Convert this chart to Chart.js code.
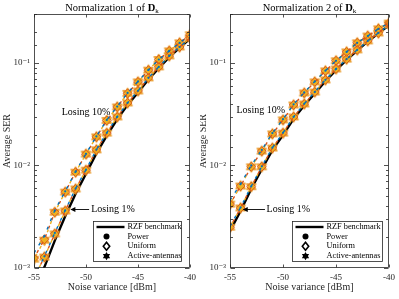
<!DOCTYPE html>
<html><head><meta charset="utf-8">
<script src="https://cdn.jsdelivr.net/npm/chart.js@4.4.1/dist/chart.umd.min.js"></script>
<style>
html,body{margin:0;padding:0;background:#fff;}
#wrap{position:relative;width:399px;height:299px;overflow:hidden;background:#fff;}
canvas{position:absolute;top:0;}
</style></head><body>
<div id="wrap">
<canvas id="c1" width="200" height="299" style="left:0"></canvas>
<canvas id="c2" width="199" height="299" style="left:200px"></canvas>
</div>
<script>
// ---------- DATA ----------
const noiseDbm = [-55,-54,-53,-52,-51,-50,-49,-48,-47,-46,-45,-44,-43,-42,-41,-40];
const xTickValues = [-55,-50,-45,-40];
const yTickLabels = {"0.001":"10\u207B\u00B3","0.01":"10\u207B\u00B2","0.1":"10\u207B\u00B9"};
const panelTitles = ["Normalization 1 of ", "Normalization 2 of "];
const legendLabels = ["RZF benchmark","Power","Uniform","Active-antennas"];
const annotationTexts = ["Losing 10%","Losing 1%"];

// Normalization 1
const n1Rzf       = [6.3e-4,1.02e-3,1.85e-3,3.2e-3,5.3e-3,8.3e-3,0.0131,0.0195,0.0282,0.039,0.0515,0.069,0.089,0.114,0.140,0.172];
const n1Power10   = [1.4e-3,2.05e-3,3.65e-3,5.6e-3,8.7e-3,0.0130,0.0192,0.0278,0.0375,0.051,0.066,0.0855,0.108,0.131,0.157,0.188];
const n1Uniform10 = [1.25e-3,1.9e-3,3.5e-3,5.5e-3,8.6e-3,0.0129,0.0190,0.0275,0.0372,0.0505,0.0653,0.085,0.108,0.131,0.157,0.188];
const n1Active10  = [1.22e-3,1.87e-3,3.5e-3,5.5e-3,8.6e-3,0.0129,0.0190,0.0275,0.0372,0.0505,0.0653,0.085,0.108,0.131,0.157,0.188];
const n1Power1    = [8.0e-4,1.3e-3,2.2e-3,3.65e-3,5.95e-3,9.1e-3,0.0143,0.0208,0.0298,0.0408,0.0535,0.0715,0.0915,0.117,0.143,0.175];
const n1Uniform1  = [8.0e-4,1.28e-3,2.15e-3,3.6e-3,5.9e-3,9.0e-3,0.0142,0.0207,0.0297,0.0407,0.0533,0.0714,0.0914,0.117,0.143,0.175];
const n1Active1   = [8.0e-4,1.28e-3,2.15e-3,3.6e-3,5.9e-3,9.0e-3,0.0142,0.0207,0.0297,0.0407,0.0533,0.0714,0.0914,0.117,0.143,0.175];

// Normalization 2
const n2Rzf       = [2.3e-3,3.6e-3,5.9e-3,9.2e-3,0.0141,0.0198,0.0285,0.0385,0.0505,0.0665,0.085,0.107,0.132,0.162,0.194,0.233];
const n2Power10   = [4.6e-3,6.6e-3,1.0e-2,0.0142,0.0207,0.0283,0.0395,0.0515,0.066,0.084,0.105,0.128,0.157,0.183,0.215,0.245];
const n2Uniform10 = [4.2e-3,6.3e-3,9.7e-3,0.0138,0.0203,0.0278,0.0389,0.0509,0.0653,0.0836,0.105,0.128,0.157,0.183,0.215,0.245];
const n2Active10  = [4.2e-3,6.3e-3,9.7e-3,0.0138,0.0203,0.0278,0.0389,0.0509,0.0653,0.0836,0.105,0.128,0.157,0.183,0.215,0.245];
const n2Power1    = [2.55e-3,3.9e-3,6.25e-3,9.8e-3,0.0149,0.0208,0.0298,0.0399,0.0521,0.0684,0.0873,0.109,0.134,0.164,0.196,0.235];
const n2Uniform1  = [2.5e-3,3.85e-3,6.2e-3,9.7e-3,0.0148,0.0207,0.0297,0.0398,0.052,0.0683,0.0873,0.109,0.134,0.164,0.196,0.235];
const n2Active1   = [2.5e-3,3.85e-3,6.2e-3,9.7e-3,0.0148,0.0207,0.0297,0.0398,0.052,0.0683,0.0873,0.109,0.134,0.164,0.196,0.235];

// Annotation anchors (data coordinates)
const n1Annot = {t10:{x:-50.0,y:0.033}, t1:{x:-49.5,y:3.76e-3}, a1From:{x:-49.7,y:3.76e-3}, a1To:{x:-51.5,y:3.76e-3}};
const n2Annot = {t10:{x:-52.1,y:0.0347}, t1:{x:-51.55,y:3.76e-3}, a1From:{x:-51.7,y:3.76e-3}, a1To:{x:-53.8,y:3.76e-3}};

// ---------- STYLE ----------
const SERIF = "'Liberation Serif','DejaVu Serif',serif";
const AX = '#262626';
const C_BLUE = '#0072BD', C_ORANGE = '#D95319', C_YELLOW = '#EDB120';

function hexPath(ctx, cx, cy, R){
  const r = R/Math.sqrt(3);
  ctx.beginPath();
  for(let i=0;i<12;i++){
    const ang = -Math.PI/2 + i*Math.PI/6;
    const rr = (i%2===0)?R:r;
    const px = cx + rr*Math.cos(ang), py = cy + rr*Math.sin(ang);
    if(i===0) ctx.moveTo(px,py); else ctx.lineTo(px,py);
  }
  ctx.closePath();
}
function hexCanvas(R, fill, stroke){
  const s = Math.ceil(2*R+3);
  const c = document.createElement('canvas'); c.width=s; c.height=s;
  const g = c.getContext('2d');
  hexPath(g, s/2, s/2, R);
  g.fillStyle=fill; g.fill();
  g.lineWidth=1; g.strokeStyle=stroke; g.stroke();
  return c;
}
const hexMarker = hexCanvas(5.6, C_YELLOW, '#E8962A');

function pts(arr){ return arr.map((v,i)=>({x:noiseDbm[i], y:v})); }

function makeDatasets(rzf, p10,u10,a10,p1,u1,a1){
  const line = (data,color,ps,rad,bg,bw,order,dashOff)=>({
    data:pts(data), borderColor:color, borderWidth:1.4, borderDash:[3,6], borderDashOffset:dashOff,
    pointStyle:ps, pointRadius:rad, pointBackgroundColor:bg, pointBorderColor:color, pointBorderWidth:bw,
    fill:false, tension:0, order:order
  });
  return [
    {data:pts(rzf), borderColor:'#000', borderWidth:2.4, pointRadius:0, fill:false, order:10},
    line(a10, C_YELLOW, hexMarker, 5, C_YELLOW, 1, 6, 6),
    line(a1,  C_YELLOW, hexMarker, 5, C_YELLOW, 1, 6, 6),
    line(u10, C_ORANGE, 'rectRot', 4.4, 'rgba(0,0,0,0)', 0.9, 4, 3),
    line(u1,  C_ORANGE, 'rectRot', 4.4, 'rgba(0,0,0,0)', 0.9, 4, 3),
    line(p10, C_BLUE, 'circle', 1.1, C_BLUE, 0, 2, 0),
    line(p1,  C_BLUE, 'circle', 1.1, C_BLUE, 0, 2, 0),
  ];
}

// ---------- PLUGINS ----------
const frame = {
  id:'frame',
  afterDatasetsDraw(chart){
    const {ctx, chartArea:a, scales:{x,y}} = chart;
    ctx.save();
    ctx.strokeStyle = AX; ctx.lineWidth = 0.8;
    const L=Math.round(a.left)+0.5, R=Math.round(a.right)-0.5, T=Math.round(a.top)+0.5, B=Math.round(a.bottom)-0.5;
    ctx.strokeRect(L, T, R-L, B-T);
    ctx.beginPath();
    y.ticks.forEach(t=>{
      const py = Math.round(y.getPixelForValue(t.value))+0.5;
      const len = yTickLabels[String(t.value)] ? 4.5 : 2.5;
      ctx.moveTo(L,py); ctx.lineTo(L+len,py);
      ctx.moveTo(R,py); ctx.lineTo(R-len,py);
    });
    x.ticks.forEach(t=>{
      const px = Math.round(x.getPixelForValue(t.value))+0.5;
      ctx.moveTo(px,B); ctx.lineTo(px,B-3);
      ctx.moveTo(px,T); ctx.lineTo(px,T+3);
    });
    ctx.stroke();
    ctx.restore();
  }
};

const titleP = {
  id:'titleP',
  afterDraw(chart, args, opts){
    const {ctx, chartArea:a} = chart;
    ctx.save();
    ctx.fillStyle = '#000'; ctx.textBaseline='alphabetic';
    const f1 = "10.5px "+SERIF, f2 = "bold 10.5px "+SERIF, f3 = "7px "+SERIF;
    ctx.font=f1; const w1=ctx.measureText(opts.text).width;
    ctx.font=f2; const w2=ctx.measureText('D').width;
    ctx.font=f3; const w3=ctx.measureText('k').width;
    let xs = (a.left+a.right)/2 - (w1+w2+w3)/2;
    const yb = 10.5;
    ctx.font=f1; ctx.fillText(opts.text, xs, yb); xs+=w1;
    ctx.font=f2; ctx.fillText('D', xs, yb); xs+=w2;
    ctx.font=f3; ctx.fillText('k', xs, yb+2);
    ctx.restore();
  }
};

const annotP = {
  id:'annotP',
  afterDraw(chart, args, opts){
    const {ctx, scales:{x,y}} = chart;
    const an = opts.anchors;
    ctx.save();
    ctx.fillStyle='#000'; ctx.font = "10px "+SERIF; ctx.textBaseline='middle';
    ctx.textAlign='center';
    ctx.fillText(annotationTexts[0], x.getPixelForValue(an.t10.x), y.getPixelForValue(an.t10.y));
    ctx.textAlign='left';
    ctx.fillText(annotationTexts[1], x.getPixelForValue(an.t1.x), y.getPixelForValue(an.t1.y));
    const fx=x.getPixelForValue(an.a1From.x), fy=Math.round(y.getPixelForValue(an.a1From.y))+0.5;
    const tx=x.getPixelForValue(an.a1To.x);
    ctx.strokeStyle='#000'; ctx.lineWidth=0.9;
    ctx.beginPath(); ctx.moveTo(fx,fy); ctx.lineTo(tx+1,fy); ctx.stroke();
    ctx.beginPath(); ctx.moveTo(tx,fy); ctx.lineTo(tx+5,fy-2.6); ctx.lineTo(tx+5,fy+2.6); ctx.closePath(); ctx.fill();
    ctx.restore();
  }
};

const legendP = {
  id:'legendP',
  afterDraw(chart, args, opts){
    const {ctx, chartArea:a} = chart;
    ctx.save();
    const bw = opts.width, bh = 40;
    const bx = Math.round(a.right - opts.right - bw)+0.5, by = Math.round(a.bottom - 7 - bh)+0.5;
    ctx.fillStyle='#fff'; ctx.fillRect(bx,by,bw,bh);
    ctx.strokeStyle=AX; ctx.lineWidth=0.8; ctx.strokeRect(bx,by,bw,bh);
    const rows = [by+5.5, by+15, by+24.8, by+34.6];
    const mx = bx+13;
    ctx.strokeStyle='#000'; ctx.lineWidth=2.4;
    ctx.beginPath(); ctx.moveTo(bx+3,rows[0]); ctx.lineTo(bx+31,rows[0]); ctx.stroke();
    ctx.fillStyle='#000';
    ctx.beginPath(); ctx.arc(mx,rows[1],3,0,Math.PI*2); ctx.fill();
    ctx.lineWidth=1.6;
    ctx.beginPath(); ctx.moveTo(mx,rows[2]-4); ctx.lineTo(mx+3.2,rows[2]); ctx.lineTo(mx,rows[2]+4); ctx.lineTo(mx-3.2,rows[2]); ctx.closePath(); ctx.stroke();
    hexPath(ctx, mx, rows[3], 4.2); ctx.fill();
    ctx.font = "8.3px "+SERIF; ctx.textBaseline='middle'; ctx.textAlign='left';
    legendLabels.forEach((t,i)=>ctx.fillText(t, bx+34, rows[i]));
    ctx.restore();
  }
};

function makeChart(id, datasets, titleText, anchors, yW, rightPad, yTitlePad, legW, legR){
  return new Chart(document.getElementById(id), {
    type:'line',
    data:{datasets},
    options:{
      responsive:false, animation:false, events:[],
      layout:{padding:{left:0, right:rightPad, top:14, bottom:0}},
      plugins:{legend:{display:false}, tooltip:{enabled:false},
        titleP:{text:titleText}, annotP:{anchors}, legendP:{width:legW, right:legR}},
      scales:{
        x:{type:'linear', min:-55, max:-40,
          afterFit(s){ s.height = 31; },
          afterBuildTicks(s){ s.ticks = xTickValues.map(v=>({value:v})); },
          grid:{display:false, drawTicks:false}, border:{display:false},
          ticks:{color:AX, font:{family:SERIF,size:9}, padding:4, maxRotation:0, autoSkip:false,
            callback:(v)=>String(v)},
          title:{display:true, text:'Noise variance [dBm]', color:AX, font:{family:SERIF,size:10}, padding:{bottom:6,top:0}}
        },
        y:{type:'logarithmic', min:0.001, max:0.3,
          afterFit(s){ s.width = yW; },
          grid:{display:false, drawTicks:false}, border:{display:false},
          ticks:{color:AX, font:{family:SERIF,size:9}, padding:4, autoSkip:false,
            callback:(v)=> yTickLabels[String(v)] || ''},
          title:{display:true, text:'Average SER', color:AX, font:{family:SERIF,size:10}, padding:{top:yTitlePad,bottom:0}}
        }
      }
    },
    plugins:[frame, titleP, annotP, legendP]
  });
}

makeChart('c1', makeDatasets(n1Rzf,n1Power10,n1Uniform10,n1Active10,n1Power1,n1Uniform1,n1Active1),
  panelTitles[0], n1Annot, 34, 6, 1, 88, 9);
makeChart('c2', makeDatasets(n2Rzf,n2Power10,n2Uniform10,n2Active10,n2Power1,n2Uniform1,n2Active1),
  panelTitles[1], n2Annot, 30, 8, -2.5, 90, 7);
</script>
</body></html>
